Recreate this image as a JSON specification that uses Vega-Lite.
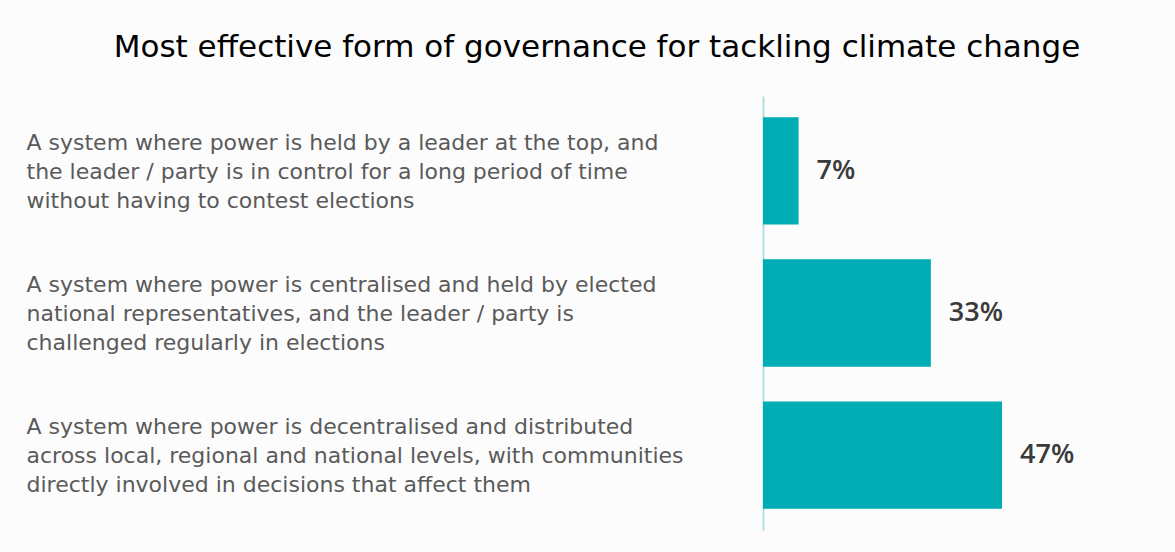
{
  "$schema": "https://vega.github.io/schema/vega-lite/v6.json",
  "width": 412,
  "height": 434,
  "autosize": {"type": "none"},
  "padding": {"left": 763, "top": 96, "right": 0, "bottom": 22},
  "background": "#fcfcfc",
  "config": {"view": {"stroke": null}},
  "title": {
    "text": "Most effective form of governance for tackling climate change",
    "font": "DejaVu Sans",
    "fontSize": 31,
    "fontWeight": "normal",
    "color": "#000000",
    "anchor": "middle",
    "dx": -372,
    "offset": 32
  },
  "data": {
    "values": [
      {"label": "A system where power is held by a leader at the top, and|the leader / party is in control for a long period of time|without having to contest elections", "value": 0.07},
      {"label": "A system where power is centralised and held by elected|national representatives, and the leader / party is|challenged regularly in elections", "value": 0.33},
      {"label": "A system where power is decentralised and distributed|across local, regional and national levels, with communities|directly involved in decisions that affect them", "value": 0.47}
    ]
  },
  "encoding": {
    "y": {
      "field": "label",
      "type": "nominal",
      "sort": null,
      "scale": {"paddingInner": 0.245, "paddingOuter": 0.15},
      "axis": {
        "title": null,
        "ticks": false,
        "grid": false,
        "labelAlign": "left",
        "labelBaseline": "middle",
        "labelPadding": 737,
        "labelOffset": -28,
        "labelExpr": "split(datum.label, '|')",
        "labelFont": "DejaVu Sans",
        "labelFontSize": 22,
        "labelColor": "#5a5a5a",
        "labelLineHeight": 29,
        "labelLimit": 0,
        "domainColor": "#b0e0e0",
        "domainWidth": 2
      }
    },
    "x": {
      "field": "value",
      "type": "quantitative",
      "scale": {"domain": [0, 0.81]},
      "axis": null
    }
  },
  "layer": [
    {"mark": {"type": "bar", "color": "#00adb5"}},
    {
      "mark": {"type": "text", "align": "left", "baseline": "middle", "dx": 18, "font": "Open Sans", "fontSize": 27, "fontWeight": 600, "color": "#3a3a3a"},
      "encoding": {"text": {"field": "value", "type": "quantitative", "format": ".0%"}}
    }
  ]
}
